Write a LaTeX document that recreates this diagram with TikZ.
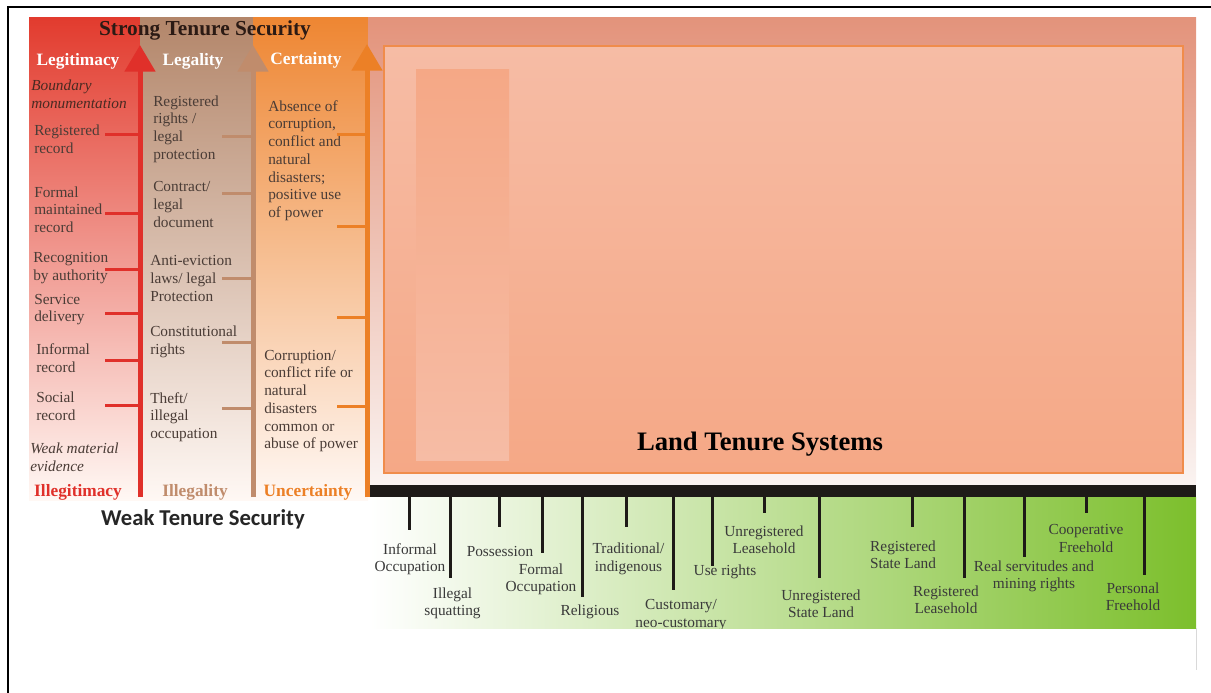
\documentclass[tikz,border=0pt]{standalone}
\usepackage{fontspec}
\setmainfont{Liberation Serif}
\newfontfamily\carlito{Carlito}
\usetikzlibrary{arrows.meta}
\definecolor{redA}{HTML}{E0302A}
\definecolor{tanA}{HTML}{C08C6C}
\definecolor{orA}{HTML}{EC8026}
\definecolor{txtc}{HTML}{4A3C36}
\definecolor{glc}{HTML}{3A3A3A}
\definecolor{redTop}{HTML}{E23B2E}
\definecolor{redMid}{HTML}{F2A394}
\definecolor{tanTop}{HTML}{B3866A}
\definecolor{tanMid}{HTML}{E6CBBE}
\definecolor{orTop}{HTML}{EE8632}
\definecolor{orMid}{HTML}{F8BF97}
\definecolor{paleEnd}{HTML}{FFF8F4}
\definecolor{salTop}{HTML}{E3937B}
\definecolor{salBot}{HTML}{FAF3F1}
\definecolor{inTop}{HTML}{F6BCA5}
\definecolor{inBot}{HTML}{F5A886}
\definecolor{inBorder}{HTML}{F08C4B}
\definecolor{grnEnd}{HTML}{7CBF2C}
\definecolor{grnMid}{HTML}{D6EBBF}
\definecolor{barc}{HTML}{1E1A18}
\definecolor{strongc}{HTML}{2B1A14}
\definecolor{boundc}{HTML}{4A2A22}
\begin{document}
\begin{tikzpicture}[x=0.75pt,y=-0.75pt,
  txt/.style={font=\fontsize{11.5}{13.3}\selectfont, text=txtc, inner sep=0pt, align=left, anchor=west},
  itxt/.style={txt, font=\fontsize{11.5}{13.3}\selectfont\itshape, text=boundc},
  gl/.style={font=\fontsize{11.5}{13.1}\selectfont, text=glc, inner sep=0pt, align=center},
  head/.style={font=\fontsize{13}{15}\selectfont\bfseries, text=white, inner sep=0pt},
  foot/.style={font=\fontsize{13}{15}\selectfont\bfseries, inner sep=0pt},
  tickR/.style={draw=redA, line width=2.25pt},
  tickT/.style={draw=tanA, line width=2.25pt},
  tickO/.style={draw=orA, line width=2.25pt},
  tickG/.style={draw=barc, line width=2.25pt},
  bigarrow/.style={line width=3.75pt, -{Triangle[width=22.5pt,length=20pt]}}
]
\useasboundingbox (0,0) rectangle (1211,693);
% outer frame
\draw[line width=2pt] (8,7) rectangle (1240,720);
% left columns
\shade[top color=redTop, middle color=redMid, bottom color=paleEnd] (29,17) rectangle (140,500);
\shade[top color=tanTop, middle color=tanMid, bottom color=paleEnd] (140,17) rectangle (253,500);
\shade[top color=orTop, middle color=orMid, bottom color=paleEnd] (253,17) rectangle (368,500);
% right salmon area
\shade[top color=salTop, bottom color=salBot] (368,17) rectangle (1196,484);
\shade[top color=inTop, bottom color=inBot, draw=inBorder, line width=0.8pt] (384,46) rectangle (1183,473);
\shade[top color=inBot, bottom color=inTop] (416,69) rectangle (509,460);
\node[font=\fontsize{20}{24}\selectfont\bfseries, inner sep=0pt] (lts) at (760,444) {Land Tenure Systems};
% green spectrum
\shade[left color=white, middle color=grnMid, right color=grnEnd] (370,497) rectangle (1196,628);
\draw[black!15, line width=0.6pt] (1196,628) -- (1196,670);
\fill[barc] (370,485) rectangle (1196,497);
% arrows
\coordinate (rb) at (140,497); \coordinate (rt) at (140,45);
\coordinate (tb) at (253,497); \coordinate (tt) at (253,45);
\coordinate (ob) at (367,497); \coordinate (ot) at (367,44);
\draw[bigarrow, redA] (rb) -- (rt);
\draw[bigarrow, tanA] (tb) -- (tt);
\draw[bigarrow, orA] (ob) -- (ot);
% titles
\node[font=\fontsize{16}{19}\selectfont\bfseries, text=strongc, inner sep=0pt] (strong) at (205,30) {Strong Tenure Security};
\node[head] (hleg) at (78,61) {Legitimacy};
\node[head] (hlgl) at (193,61) {Legality};
\node[head] (hcer) at (306,60) {Certainty};
\node[foot, text=redA] (fill) at (78,492) {Illegitimacy};
\node[foot, text=tanA] (fillg) at (195,492) {Illegality};
\node[foot, text=orA] (func) at (308,492) {Uncertainty};
\node[font=\fontsize{17}{20}\selectfont\bfseries\carlito, text=black!85, inner sep=0pt] (weak) at (203,519) {Weak Tenure Security};
% red column
\node[itxt] (r0) at (31,94.5) {Boundary\\monumentation};
\node[txt] (r1) at (34,139.5) {Registered\\record};
\node[txt] (r2) at (34,209.5) {Formal\\maintained\\record};
\node[txt] (r3) at (33,268) {Recognition\\by authority};
\node[txt] (r4) at (34,309.5) {Service\\delivery};
\node[txt] (r5) at (36,358) {Informal\\record};
\node[txt] (r6) at (36,406) {Social\\record};
\node[itxt, text=txtc] (r7) at (30,457) {Weak material\\evidence};
\foreach \y in {134,213,269,313,360,405} \draw[tickR] (105,\y) -- (139,\y);
% tan column
\node[txt] (t1) at (153,129) {Registered\\rights /\\legal\\protection};
\node[txt] (t2) at (153,204.5) {Contract/\\legal\\document};
\node[txt] (t3) at (150,278.5) {Anti-eviction\\laws/ legal\\Protection};
\node[txt] (t4) at (150,342) {Constitutional\\rights};
\node[txt] (t5) at (150,417) {Theft/\\illegal\\occupation};
\foreach \y in {136,193,278,342,408} \draw[tickT] (222,\y) -- (252,\y);
% orange column
\node[txt] (o1) at (268,160.5) {Absence of\\corruption,\\conflict and\\natural\\disasters;\\positive use\\of power};
\node[txt] (o2) at (264,401) {Corruption/\\conflict rife or\\natural\\disasters\\common or\\abuse of power};
\foreach \y in {134,226,317,406} \draw[tickO] (337,\y) -- (366,\y);
% spectrum ticks
\foreach \x/\yb in {409/530,450/578,499/527,542/553,582/597,626/527,673/590,712/566,764/513,819/578,912/527,964/578,1024/557,1086/513,1144/575}
  \draw[tickG] (\x,496) -- (\x,\yb);
\begin{scope}
\clip (355,497) rectangle (1200,628);
\node[gl] (g1) at (410,559) {Informal\\Occupation};
\node[gl] (g2) at (452.5,603.5) {Illegal\\squatting};
\node[gl] (g3) at (500,551) {Possession};
\node[gl] (g4) at (541,579.5) {Formal\\Occupation};
\node[gl] (g5) at (590,612) {Religious};
\node[gl] (g6) at (628.5,559) {Traditional/\\indigenous};
\node[gl] (g7) at (681,615) {Customary/\\neo-customary};
\node[gl] (g8) at (725,572) {Use rights};
\node[gl] (g9) at (764,539.5) {Unregistered\\Leasehold};
\node[gl] (g10) at (821,604) {Unregistered\\State Land};
\node[gl] (g11) at (903,554.5) {Registered\\State Land};
\node[gl] (g12) at (946,599.5) {Registered\\Leasehold};
\node[gl] (g13) at (1034,576.5) {Real servitudes and\\mining rights};
\node[gl] (g14) at (1086,538.5) {Cooperative\\Freehold};
\node[gl] (g15) at (1133,597) {Personal\\Freehold};
\end{scope}
\end{tikzpicture}
\end{document}
